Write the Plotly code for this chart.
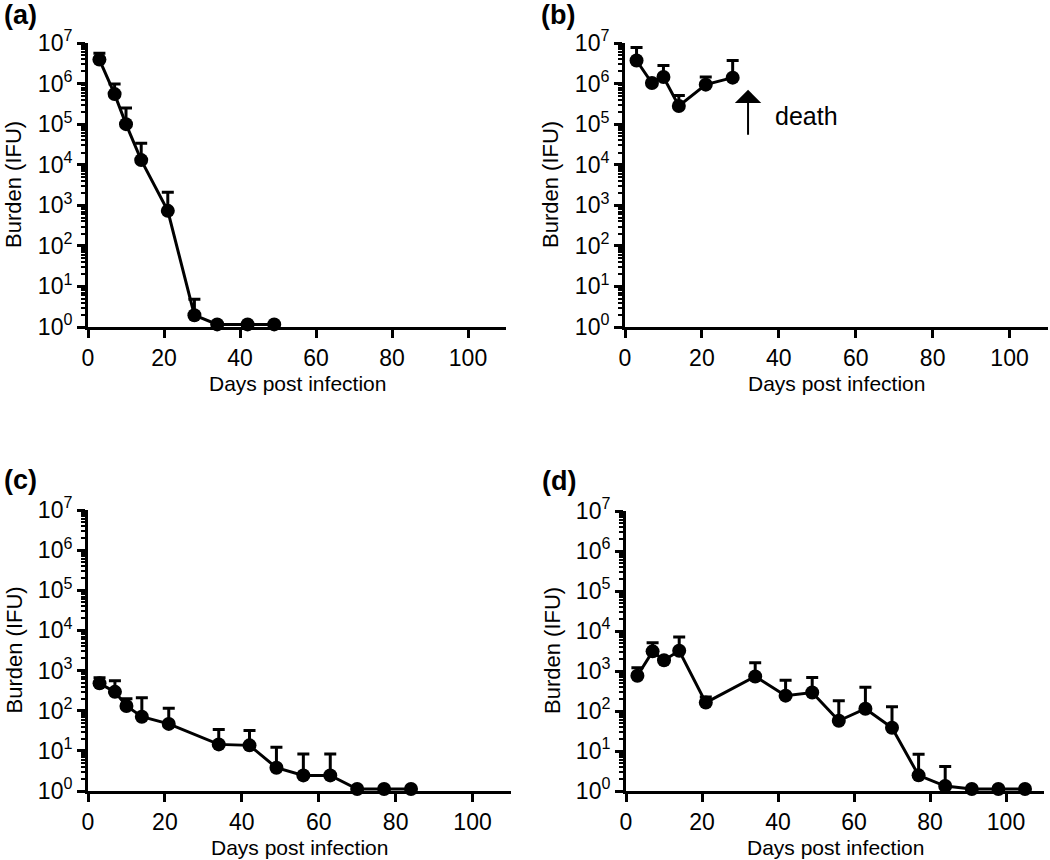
import math
import plotly.graph_objects as go
from plotly.subplots import make_subplots

# ---------------------------------------------------------
# Data (mean burden + upper SD)
# ---------------------------------------------------------
days_a = [3, 7, 10, 14, 21, 28, 34, 42, 49]
burden_a = [3.9e6, 5.5e5, 1.0e5, 1.3e4, 730, 1.95, 1.16, 1.16, 1.16]
upper_a = [5.6e6, 9.7e5, 2.5e5, 3.4e4, 2.1e3, 4.8, 1.16, 1.16, 1.16]

days_b = [3, 7, 10, 14, 21, 28]
burden_b = [3.7e6, 1.03e6, 1.45e6, 2.8e5, 9.4e5, 1.4e6]
upper_b = [7.8e6, 1.03e6, 2.8e6, 5.1e5, 1.45e6, 3.7e6]

days_c = [3, 7, 10, 14, 21, 34, 42, 49, 56, 63, 70, 77, 84]
burden_c = [480, 295, 131, 71, 47, 14.5, 13.7, 3.8, 2.45, 2.45, 1.12, 1.12, 1.12]
upper_c = [660, 560, 200, 210, 115, 34, 32, 12.3, 8.3, 8.3, 1.12, 1.12, 1.12]

days_d = [3, 7, 10, 14, 21, 34, 42, 49, 56, 63, 70, 77, 84, 91, 98, 105]
burden_d = [760, 3100, 1860, 3200, 162, 730, 242, 290, 57, 114, 38, 2.46, 1.33, 1.12, 1.12, 1.12]
upper_d = [1200, 5100, 1860, 7100, 225, 1600, 590, 690, 180, 390, 128, 8.3, 4.1, 1.12, 1.12, 1.12]

panel_labels = ["(a)", "(b)", "(c)", "(d)"]
x_title = "Days post infection"
y_title = "Burden (IFU)"
y_tickvals = [1, 10, 100, 1e3, 1e4, 1e5, 1e6, 1e7]
y_ticktext = ["10<sup>%d</sup>" % i for i in range(8)]
x_tickvals = [0, 20, 40, 60, 80, 100]

death_day = 32
death_arrow_from = 5e4
death_arrow_to = 7e5

FONT = "Liberation Sans, Arial, sans-serif"
W, H = 1050, 860

# log minor ticks (2..9 within each decade)
minor_vals = [m * 10 ** e for e in range(7) for m in range(2, 10)]

# pixel boxes of each plot area: (left, right, top, bottom)
boxes = [
    (88, 506, 43, 327),
    (625, 1048, 43, 327),
    (88, 511, 510, 791),
    (626, 1044, 511, 791),
]

fig = make_subplots(rows=2, cols=2)

series = [
    (days_a, burden_a, upper_a),
    (days_b, burden_b, upper_b),
    (days_c, burden_c, upper_c),
    (days_d, burden_d, upper_d),
]

for i, (xs, ys, up) in enumerate(series):
    r, c = i // 2 + 1, i % 2 + 1
    fig.add_trace(
        go.Scatter(
            x=xs,
            y=ys,
            mode="lines+markers",
            line=dict(color="black", width=3),
            marker=dict(color="black", size=14),
            error_y=dict(
                type="data",
                symmetric=False,
                array=[u - y for u, y in zip(up, ys)],
                arrayminus=[0] * len(ys),
                color="black",
                thickness=3,
                width=6,
            ),
            cliponaxis=False,
            showlegend=False,
        ),
        row=r,
        col=c,
    )


def px_x(p):
    return p / W


def px_y(p):
    return 1 - p / H


for i, (l, rr, t, b) in enumerate(boxes):
    sfx = "" if i == 0 else str(i + 1)
    fig.layout["xaxis" + sfx].update(
        domain=[px_x(l), min(px_x(rr), 1)],
        range=[0, 110],
        tickvals=x_tickvals,
        ticks="outside",
        ticklen=8,
        tickwidth=3,
        tickcolor="black",
        showline=True,
        linewidth=3,
        linecolor="black",
        showgrid=False,
        zeroline=False,
        automargin=False,
        tickfont=dict(family=FONT, size=23, color="black"),
    )
    fig.layout["yaxis" + sfx].update(
        domain=[px_y(b), px_y(t)],
        type="log",
        range=[0, 7],
        tickvals=y_tickvals,
        ticktext=y_ticktext,
        ticks="outside",
        ticklen=8,
        tickwidth=3,
        tickcolor="black",
        minor=dict(tickmode="array", tickvals=minor_vals, ticks="outside",
                   ticklen=4, tickwidth=2, tickcolor="black"),
        showline=True,
        linewidth=3,
        linecolor="black",
        showgrid=False,
        zeroline=False,
        automargin=False,
        tickfont=dict(family=FONT, size=23, color="black"),
    )
    # panel letter
    fig.add_annotation(
        x=px_x(l - 86),
        y=px_y(t - 28 if i < 2 else t - 30),
        xref="paper",
        yref="paper",
        text="<b>%s</b>" % panel_labels[i],
        showarrow=False,
        xanchor="left",
        yanchor="middle",
        font=dict(family=FONT, size=27, color="black"),
    )
    # x title
    fig.add_annotation(
        x=px_x((l + rr) / 2),
        y=px_y(b + 56),
        xref="paper",
        yref="paper",
        text=x_title,
        showarrow=False,
        xanchor="center",
        yanchor="middle",
        font=dict(family=FONT, size=21, color="black"),
    )
    # y title
    fig.add_annotation(
        x=px_x(l - 74),
        y=px_y((t + b) / 2),
        xref="paper",
        yref="paper",
        text=y_title,
        textangle=-90,
        showarrow=False,
        xanchor="center",
        yanchor="middle",
        font=dict(family=FONT, size=22, color="black"),
    )

# death arrow in panel (b)
fig.add_annotation(
    x=death_day,
    y=math.log10(death_arrow_to),
    ax=death_day,
    ay=math.log10(death_arrow_from),
    xref="x2",
    yref="y2",
    axref="x2",
    ayref="y2",
    text="",
    showarrow=True,
    arrowhead=1,
    arrowsize=2.2,
    arrowwidth=2,
    arrowcolor="black",
)
fig.add_annotation(
    x=death_day + 6.5,
    y=5.2,
    xref="x2",
    yref="y2",
    text="death",
    showarrow=False,
    xanchor="left",
    yanchor="middle",
    font=dict(family=FONT, size=25, color="black"),
)

fig.update_layout(
    width=W,
    height=H,
    margin=dict(l=0, r=0, t=0, b=0),
    paper_bgcolor="white",
    plot_bgcolor="white",
    font=dict(family=FONT, color="black"),
)

# drop the browser's default 8px body margin so the figure fills the window
fig.write_html(
    "out.html",
    config={"displayModeBar": False},
    post_script="document.body.style.margin = '0';",
)
